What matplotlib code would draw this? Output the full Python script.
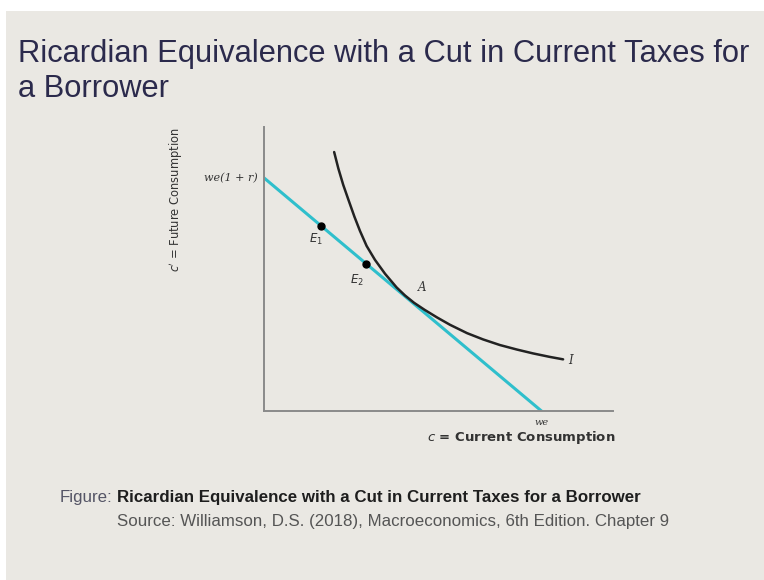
import numpy as np
import matplotlib.pyplot as plt
from matplotlib.patches import Rectangle

# budget line intercepts (current consumption axis, future consumption axis)
we = 7.95
we_1r = 6.68

# consumption bundles on the budget line
E1 = (1.63, 5.31)
E2 = (2.92, 4.22)
A = (4.04, 3.28)

# indifference curve I
curve_c = [2.01, 2.13, 2.27, 2.42, 2.59, 2.75, 2.94, 3.18, 3.47, 3.80, 4.04,
           4.30, 4.60, 4.96, 5.33, 5.82, 6.28, 6.76, 7.25, 7.71, 8.19, 8.57]
curve_cf = [7.42, 6.95, 6.48, 6.05, 5.57, 5.16, 4.73, 4.33, 3.93, 3.54, 3.31,
            3.10, 2.90, 2.68, 2.47, 2.23, 2.05, 1.89, 1.76, 1.65, 1.55, 1.48]

W, H = 764, 580
bg = '#eae8e3'

fig = plt.figure(figsize=(W/100, H/100), dpi=100, facecolor=bg)
# white strips at the top and left edge of the slide capture
fig.patches.append(Rectangle((0, 1 - 11/H), 1, 11/H, transform=fig.transFigure,
                             facecolor='white', edgecolor='none'))
fig.patches.append(Rectangle((0, 0), 6/W, 1, transform=fig.transFigure,
                             facecolor='white', edgecolor='none'))

# slide title
fig.text(18/W, 1 - 62/H, "Ricardian Equivalence with a Cut in Current Taxes for",
         fontsize=22.2, family='Liberation Sans', color='#2b2a4c')
fig.text(18/W, 1 - 97/H, "a Borrower",
         fontsize=22.2, family='Liberation Sans', color='#2b2a4c')

# caption
fig.text(112/W, 1 - 502/H, "Figure:", fontsize=12.2, family='Liberation Sans',
         color='#555566', ha='right')
fig.text(117/W, 1 - 502/H, "Ricardian Equivalence with a Cut in Current Taxes for a Borrower",
         fontsize=12.2, family='Liberation Sans', weight='bold', color='#1e1e1e')
fig.text(117/W, 1 - 526/H, "Source: Williamson, D.S. (2018), Macroeconomics, 6th Edition. Chapter 9",
         fontsize=12.2, family='Liberation Sans', color='#555555')

# plot area
ax = fig.add_axes([264/W, (H-411)/H, (613-264)/W, (411-127)/H])
ax.set_zorder(2)
ax.set_facecolor('none')
ax.set_xlim(0, 10)
ax.set_ylim(0, 284/34.9)
for s in ['top', 'right']:
    ax.spines[s].set_visible(False)
for s in ['left', 'bottom']:
    ax.spines[s].set_color('#8a8a8a')
    ax.spines[s].set_linewidth(1.4)
ax.set_xticks([])
ax.set_yticks([])

ax.plot([0, we], [we_1r, 0], color='#2fbfcc', lw=2.2, zorder=2)
ax.plot(curve_c, curve_cf, color='#222222', lw=1.8, solid_joinstyle='round',
        solid_capstyle='round', zorder=3)
ax.plot([E1[0], E2[0]], [E1[1], E2[1]], 'o', color='black', ms=5, zorder=4)

lab = dict(color='#333333', style='italic', family='DejaVu Serif')
ax.text(E1[0] - 0.15, E1[1] - 0.5, '$E_1$', fontsize=8.5, color='#333333', ha='center')
ax.text(E2[0] - 0.25, E2[1] - 0.58, '$E_2$', fontsize=8.5, color='#333333', ha='center')
ax.text(A[0] + 0.5, A[1] + 0.15, 'A', fontsize=8.5, ha='center', **lab)
ax.text(curve_c[-1] + 0.22, curve_cf[-1] - 0.12, 'I', fontsize=8.5, ha='center', **lab)
ax.text(-0.17, we_1r, 'we(1 + r)', fontsize=8, ha='right', va='center', clip_on=False, **lab)
ax.text(we, -0.2, 'we', fontsize=7, ha='center', va='top', clip_on=False, **lab)

ax.text(7.36, -0.77, "$c$ = Current Consumption", fontsize=9.5, weight='bold',
        color='#333333', ha='center', va='center', clip_on=False)
ax.text(-2.52, 6.05, "$c'$ = Future Consumption", fontsize=8.3, color='#333333',
        rotation=90, ha='center', va='center', clip_on=False)

fig.savefig('out.png', dpi=100, facecolor=bg)
